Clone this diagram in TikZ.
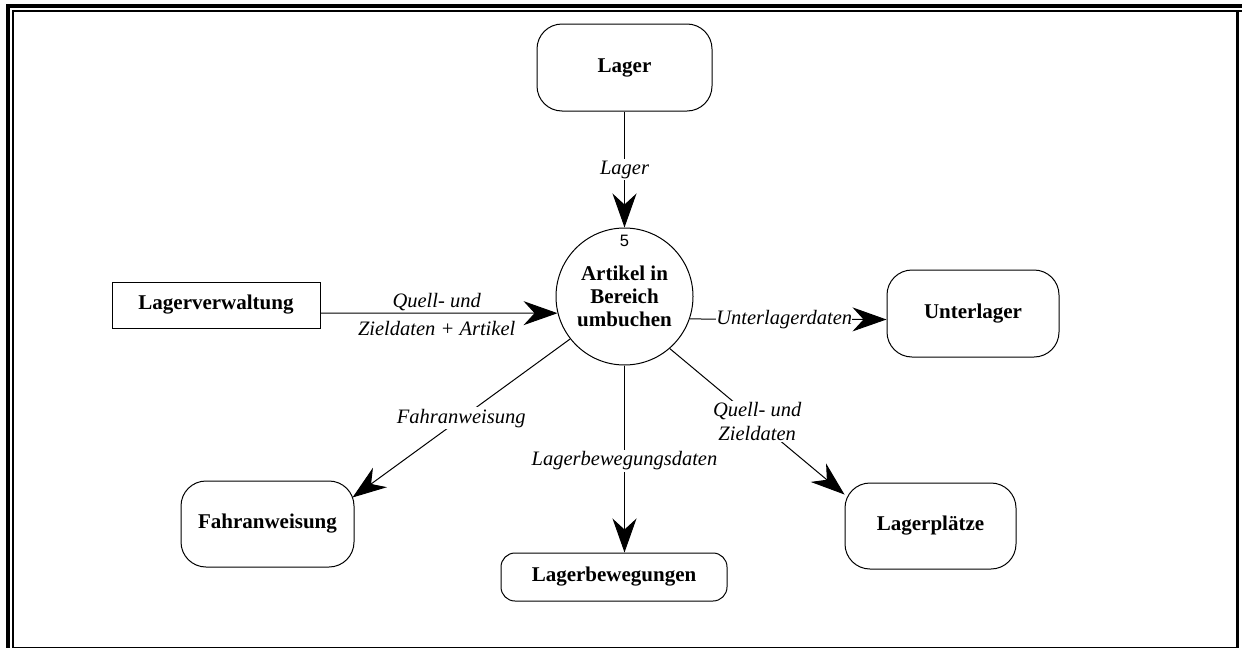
\documentclass[tikz,border=0pt]{standalone}
\usepackage{fontspec}
\setmainfont{Liberation Serif}
\newfontfamily\numfont{Liberation Sans}
\usetikzlibrary{arrows.meta}
\begin{document}
\begin{tikzpicture}[x=1pt,y=-1pt,
  store/.style={draw, line width=1pt, rounded corners=25pt, inner sep=0pt,
    font=\fontsize{21}{23}\selectfont\bfseries},
  extern/.style={draw, line width=1pt, inner sep=0pt,
    font=\fontsize{21}{23}\selectfont\bfseries},
  procnode/.style={draw, circle, line width=1pt, inner sep=0pt, minimum size=137pt,
    align=center, font=\fontsize{21}{23}\selectfont\bfseries},
  flow/.style={line width=1pt, -{Stealth[length=34pt,width=24pt,inset=11pt]}},
  lbl/.style={fill=white, inner sep=1.5pt, align=center,
    font=\fontsize{20.5}{24}\selectfont\itshape},
  lblclear/.style={inner sep=1.5pt, align=center,
    font=\fontsize{20.5}{28}\selectfont\itshape},
]
\useasboundingbox (0,0) rectangle (1242,648);

% frame
\fill (6,4) rectangle (1242,8);
\fill (6,4) rectangle (10,648);
\fill (12,10) rectangle (1242,12);
\fill (12,10) rectangle (14,648);
\fill (1236,12) rectangle (1239,648);
\fill (14,646.5) rectangle (1239,647.5);

% nodes
\node[procnode] (proc) at (624.5,296.5) {Artikel in\\Bereich\\umbuchen};
\node[font=\fontsize{16.5}{18}\selectfont\numfont] (pnum) at (624.5,241) {5};

\node[store, minimum width=175pt, minimum height=87pt] (lager) at (624.5,67.5) {Lager};
\node[extern, minimum width=208pt, minimum height=46pt] (lv) at (216,305) {Lagerverwaltung};
\node[store, minimum width=172pt, minimum height=87pt] (ul) at (973,313.5) {Unterlager};
\node[store, minimum width=173pt, minimum height=86pt] (fa) at (267.5,524) {Fahranweisung};
\node[store, rounded corners=14pt, minimum width=226pt, minimum height=48pt] (lb) at (614,577) {Lagerbewegungen};
\node[store, minimum width=171pt, minimum height=86pt] (lp) at (930.5,526) {Lagerplätze};

% flows
\draw[flow] (lager.south) -- node[lbl] {Lager} (proc.north);
\draw[flow] ([yshift=-8pt]lv.east) -- node[lblclear, pos=0.49]
  {{\setlength{\fboxsep}{2pt}\colorbox{white}{Quell- und}}\\Zieldaten + Artikel} (proc.194);
\draw[flow] (proc.-19) -- node[lbl, inner sep=0pt, pos=0.48] {Unterlagerdaten} ([yshift=-6pt]ul.west);
\draw[flow] (proc.218.6) -- node[lbl] {Fahranweisung} ([xshift=-2pt,yshift=-17pt]fa.north east);
\draw[flow] (proc.south) -- node[lbl, pos=0.51] {Lagerbewegungsdaten} (proc.south |- lb.north);
\draw[flow] (proc.-49.6) -- node[lbl] {Quell- und\\Zieldaten} ([yshift=-12pt]lp.north west);
\end{tikzpicture}
\end{document}
